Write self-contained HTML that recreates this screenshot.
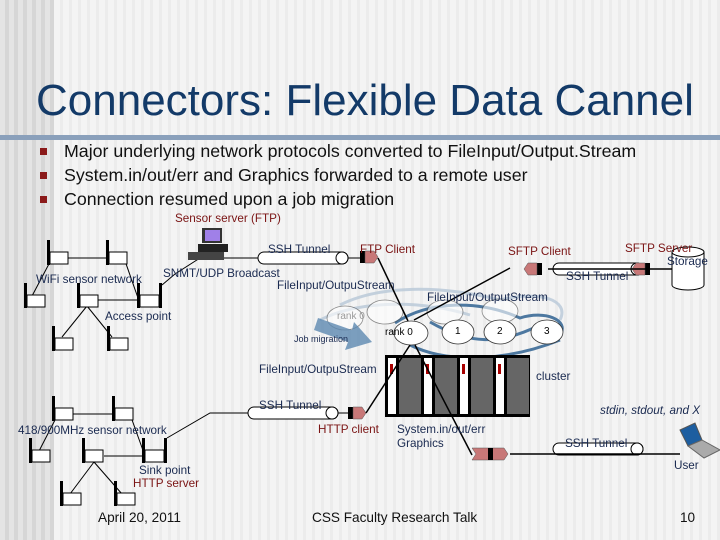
<!DOCTYPE html>
<html><head><meta charset="utf-8"><style>
html,body{margin:0;padding:0;}
body{width:720px;height:540px;overflow:hidden;font-family:"Liberation Sans",sans-serif;
background:repeating-linear-gradient(90deg,#f4f4f4 0 6px,#ececec 6px 9px);position:relative;}
.left{position:absolute;left:0;top:0;width:54px;height:540px;background:repeating-linear-gradient(90deg,#e4e4e4 0 5px,#d6d6d6 5px 9px);}
.t{position:absolute;white-space:nowrap;}
.s{font-size:11.7px;}
</style></head><body>
<div class="left"></div>
<div class="t" style="left:36px;top:76px;font-size:44px;color:#133a68;">Connectors: Flexible Data Cannel</div>
<div style="position:absolute;left:0;top:135px;width:720px;height:5px;background:#8aa0bb;"></div>
<div style="position:absolute;left:40px;top:148px;width:7px;height:7px;background:#8b1a1a"></div>
<div style="position:absolute;left:40px;top:172px;width:7px;height:7px;background:#8b1a1a"></div>
<div style="position:absolute;left:40px;top:196px;width:7px;height:7px;background:#8b1a1a"></div>
<div class="t" style="left:64px;top:141px;font-size:17.8px;color:#111;">Major underlying network protocols converted to FileInput/Output.Stream</div>
<div class="t" style="left:64px;top:165px;font-size:17.8px;color:#111;">System.in/out/err and Graphics forwarded to a remote user</div>
<div class="t" style="left:64px;top:189px;font-size:17.8px;color:#111;">Connection resumed upon a job migration</div>

<svg width="720" height="540" style="position:absolute;left:0;top:0" xmlns="http://www.w3.org/2000/svg">
<defs>
<g id="nd"><rect x="0" y="0" width="3" height="25" fill="#000"/><rect x="3" y="12" width="18" height="12" fill="#fff" stroke="#000"/></g>
<g id="ap"><rect x="0" y="0" width="3" height="25" fill="#000"/><rect x="22" y="0" width="3" height="25" fill="#000"/><rect x="3" y="12" width="19" height="12" fill="#fff" stroke="#000"/></g>
<g id="tun"><rect x="0" y="0" width="90" height="12" rx="6" fill="#fff" stroke="#000"/><ellipse cx="84" cy="6" rx="6" ry="6" fill="#fff" stroke="#000"/></g>
<g id="con"><rect x="0" y="0" width="5" height="12" fill="#000"/><path d="M5 0 H14 L18 6 L14 12 H5Z" fill="#c87878" stroke="#555" stroke-width="0.5"/></g>
</defs>
<g stroke="#000" stroke-width="1" fill="none">
<line x1="67" y1="258" x2="106" y2="258"/><line x1="50" y1="262" x2="32" y2="296"/>
<line x1="124" y1="258" x2="138" y2="298"/><line x1="98" y1="300" x2="137" y2="300"/>
<line x1="87" y1="306" x2="62" y2="337"/><line x1="87" y1="306" x2="112" y2="337"/>
<polyline points="162,285 175,274 200,258 258,258"/>
<line x1="347" y1="258" x2="360" y2="258"/>
<line x1="72" y1="414" x2="112" y2="414"/><line x1="55" y1="420" x2="38" y2="453"/>
<line x1="131" y1="417" x2="145" y2="456"/><line x1="104" y1="456" x2="142" y2="456"/>
<line x1="94" y1="462" x2="70" y2="494"/><line x1="94" y1="462" x2="122" y2="494"/>
<polyline points="167,438 210,413 248,413"/><line x1="335" y1="413" x2="348" y2="413"/>
</g>
<use href="#nd" x="47" y="240"/><use href="#nd" x="106" y="240"/><use href="#nd" x="24" y="283"/>
<use href="#nd" x="77" y="283"/><use href="#ap" x="137" y="283"/><use href="#nd" x="52" y="326"/><use href="#nd" x="107" y="326"/>
<use href="#nd" x="52" y="396"/><use href="#nd" x="112" y="396"/><use href="#nd" x="29" y="438"/>
<use href="#nd" x="82" y="438"/><use href="#ap" x="142" y="438"/><use href="#nd" x="60" y="481"/><use href="#nd" x="114" y="481"/>
<rect x="202" y="228" width="20" height="15" fill="#333"/><rect x="205" y="230" width="15" height="11" fill="#a080e8"/>
<rect x="198" y="244" width="30" height="8" fill="#222"/><rect x="188" y="252" width="36" height="8" fill="#444"/>
<use href="#tun" x="258" y="252"/><use href="#tun" x="248" y="407"/>
<use href="#tun" x="553" y="263"/><use href="#tun" x="553" y="443"/>
<use href="#con" x="360" y="251"/><use href="#con" x="348" y="407"/>
<g transform="translate(542,263) scale(-1,1)"><use href="#con" x="0" y="0"/></g>
<g transform="translate(650,263) scale(-1,1)"><use href="#con" x="0" y="0"/></g>
<path d="M672 252 V285 A16 5 0 0 0 704 285 V252" fill="#fff" stroke="#000"/><ellipse cx="688" cy="252" rx="16" ry="5" fill="#fff" stroke="#000"/>
<g fill="none" stroke="#b8c8d8" stroke-width="3" opacity="0.8">
<path d="M340 305 C380 285,440 285,500 300 C540 290,570 300,560 320"/>
<path d="M320 320 C360 300,420 300,470 315"/>
</g>
<g fill="none" stroke="#4d78a0" stroke-width="3">
<path d="M395 323 C430 300,480 300,520 318 C545 310,570 320,560 335"/>
<path d="M410 345 C450 365,510 360,560 340"/>
<path d="M430 322 C470 345,500 345,540 325"/>
</g>
<g fill="#fff" stroke="#444" stroke-width="0.8" opacity="0.6">
<ellipse cx="345" cy="318" rx="18" ry="12"/><ellipse cx="385" cy="312" rx="18" ry="12"/>
<ellipse cx="445" cy="312" rx="18" ry="12"/><ellipse cx="500" cy="311" rx="18" ry="12"/></g>
<g fill="#fff" stroke="#333" stroke-width="0.8">
<ellipse cx="411" cy="333" rx="17" ry="12"/><ellipse cx="458" cy="332" rx="16" ry="12"/>
<ellipse cx="500" cy="332" rx="16" ry="12"/><ellipse cx="547" cy="332" rx="16" ry="12"/></g>
<path d="M318 318 L352 330 L354 322 L372 342 L345 350 L348 342 L314 330Z" fill="#5d88b0" opacity="0.8"/>
<rect x="385" y="355" width="145" height="62" fill="#000"/>
<g fill="#fff"><rect x="388" y="358" width="8" height="56"/><rect x="424" y="358" width="8" height="56"/><rect x="460" y="358" width="8" height="56"/><rect x="496" y="358" width="8" height="56"/></g>
<g fill="#666"><rect x="399" y="358" width="22" height="56"/><rect x="435" y="358" width="22" height="56"/><rect x="471" y="358" width="22" height="56"/><rect x="507" y="358" width="22" height="56"/></g>
<g fill="#a00"><rect x="390" y="364" width="3" height="10"/><rect x="426" y="364" width="3" height="10"/><rect x="462" y="364" width="3" height="10"/><rect x="498" y="364" width="3" height="10"/></g>
<g stroke="#000" stroke-width="1.5">
<line x1="378" y1="258" x2="408" y2="321"/><line x1="414" y1="320" x2="510" y2="268"/>
<line x1="366" y1="413" x2="410" y2="345"/><line x1="415" y1="345" x2="472" y2="455"/>
<line x1="548" y1="269" x2="672" y2="269"/><line x1="510" y1="454" x2="680" y2="454"/>
</g>
<path d="M472 448 L476 454 L472 460 H504 L508 454 L504 448Z" fill="#c87878" stroke="#555" stroke-width="0.5"/><rect x="488" y="448" width="5" height="12" fill="#000"/>
<path d="M680 430 L695 423 L702 440 L688 446Z" fill="#1d5ea0" stroke="#555"/>
<path d="M688 446 L702 440 L720 450 L704 458Z" fill="#aaa" stroke="#666"/>
</svg>

<div class="t s" style="left:175px;top:212px;color:#7a1414;">Sensor server (FTP)</div>
<div class="t s" style="left:268px;top:243px;color:#1a2a50;">SSH Tunnel</div>
<div class="t s" style="left:360px;top:243px;color:#7a1414;">FTP Client</div>
<div class="t s" style="left:508px;top:245px;color:#7a1414;">SFTP Client</div>
<div class="t s" style="left:625px;top:242px;color:#7a1414;">SFTP Server</div>
<div class="t s" style="left:667px;top:255px;color:#1a2a50;">Storage</div>
<div class="t s" style="left:36px;top:273px;color:#1a2a50;">WiFi sensor network</div>
<div class="t s" style="left:163px;top:267px;color:#1a2a50;">SNMT/UDP Broadcast</div>
<div class="t s" style="left:277px;top:279px;color:#1a2a50;">FileInput/OutpuStream</div>
<div class="t s" style="left:566px;top:270px;color:#1a2a50;">SSH Tunnel</div>
<div class="t s" style="left:427px;top:291px;color:#1a2a50;">FileInput/OutputStream</div>
<div class="t s" style="left:105px;top:310px;color:#1a2a50;">Access point</div>
<div class="t" style="left:337px;top:311px;font-size:10px;color:#999;">rank 0</div>
<div class="t" style="left:294px;top:334px;font-size:9px;color:#1a2a50;">Job migration</div>
<div class="t" style="left:385px;top:327px;font-size:10px;color:#000;">rank 0</div>
<div class="t" style="left:455px;top:326px;font-size:10px;">1</div>
<div class="t" style="left:497px;top:326px;font-size:10px;">2</div>
<div class="t" style="left:544px;top:326px;font-size:10px;">3</div>
<div class="t s" style="left:259px;top:363px;color:#1a2a50;">FileInput/OutpuStream</div>
<div class="t s" style="left:536px;top:370px;color:#1a2a50;">cluster</div>
<div class="t s" style="left:259px;top:399px;color:#1a2a50;">SSH Tunnel</div>
<div class="t s" style="left:600px;top:404px;color:#1a2a50;font-style:italic;">stdin, stdout, and X</div>
<div class="t s" style="left:18px;top:424px;color:#1a2a50;">418/900MHz sensor network</div>
<div class="t s" style="left:318px;top:423px;color:#7a1414;">HTTP client</div>
<div class="t s" style="left:397px;top:423px;color:#1a2a50;">System.in/out/err</div>
<div class="t s" style="left:397px;top:437px;color:#1a2a50;">Graphics</div>
<div class="t s" style="left:565px;top:437px;color:#1a2a50;">SSH Tunnel</div>
<div class="t s" style="left:674px;top:459px;color:#1a2a50;">User</div>
<div class="t s" style="left:139px;top:464px;color:#1a2a50;">Sink point</div>
<div class="t s" style="left:133px;top:477px;color:#7a1414;">HTTP server</div>
<div class="t" style="left:98px;top:510px;font-size:13.6px;color:#111;">April 20, 2011</div>
<div class="t" style="left:312px;top:510px;font-size:13.6px;color:#111;">CSS Faculty Research Talk</div>
<div class="t" style="left:680px;top:510px;font-size:13.6px;color:#111;">10</div>
</body></html>
